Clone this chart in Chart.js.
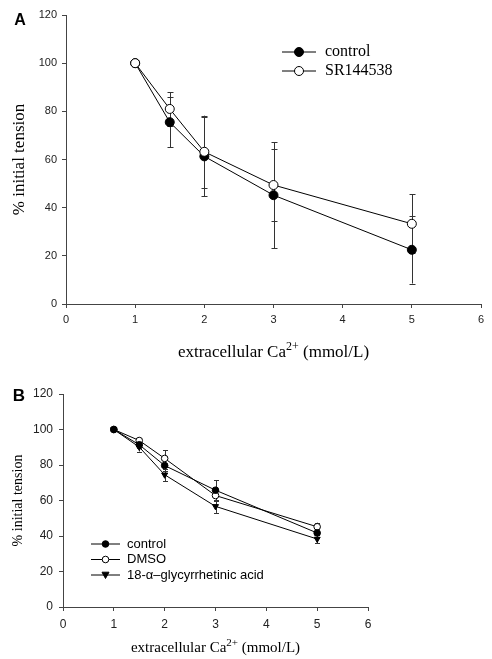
<!DOCTYPE html>
<html>
<head>
<meta charset="utf-8">
<script src="https://cdn.jsdelivr.net/npm/chart.js@4"></script>
<style>
  html, body { margin: 0; padding: 0; background: #fff; }
  #wrap { position: relative; width: 492px; height: 659px; }
  canvas { position: absolute; left: 0; }
  #chartA { top: 0; width: 492px; height: 362px; }
  #chartB { top: 362px; width: 492px; height: 297px; }
</style>
</head>
<body>
<div id="wrap">
  <canvas id="chartA" width="492" height="362"></canvas>
  <canvas id="chartB" width="492" height="297"></canvas>
</div>
<script>
// extracellular Ca2+ (mmol/L)
const caValues = [1, 1.5, 2, 3, 5];

// panel A, % initial tension (mean and error)
const aControl = [100, 75.5, 61.3, 45.2, 22.5];
const aControlErr = [0, 10.5, 16.5, 22, 14];
const aSR = [100, 81, 63.2, 49.4, 33.3];
const aSRErr = [0, 7, 15, 15, 12.2];

// panel B
const bControl = [100, 91.4, 79.7, 65.8, 41.7];
const bControlErr = [0, 2, 3, 5.7, 2];
const bDMSO = [100, 93.8, 83.7, 62.8, 45.2];
const bDMSOErr = [0, 1.5, 4.5, 3, 2.3];
const bGlyc = [100, 90.1, 74.5, 56.7, 38.3];
const bGlycErr = [0, 2.5, 3.5, 3.7, 2.5];

const xTickValues = [0, 1, 2, 3, 4, 5, 6];
const yTickValues = [0, 20, 40, 60, 80, 100, 120];

const SANS = '"Liberation Sans", Arial, sans-serif';
const SERIF = '"Liberation Serif", "Times New Roman", serif';

function points(ys) {
  return caValues.map((x, i) => ({ x: x, y: ys[i] }));
}

function drawMarker(ctx, style, x, y, r, fill) {
  ctx.beginPath();
  if (style === 'triangleDown') {
    ctx.moveTo(x - r, y - r * 0.8);
    ctx.lineTo(x + r, y - r * 0.8);
    ctx.lineTo(x, y + r);
    ctx.closePath();
  } else {
    ctx.arc(x, y, r, 0, Math.PI * 2);
  }
  ctx.fillStyle = fill;
  ctx.fill();
  ctx.lineWidth = 1;
  ctx.strokeStyle = '#000';
  ctx.stroke();
}

// vertical error bars, drawn under the markers
const errorBars = {
  id: 'errorBars',
  beforeDatasetsDraw(chart, args, o) {
    const ctx = chart.ctx;
    const yScale = chart.scales.y;
    ctx.save();
    ctx.strokeStyle = '#333';
    ctx.lineWidth = 1;
    chart.data.datasets.forEach((ds, di) => {
      const meta = chart.getDatasetMeta(di);
      meta.data.forEach((pt, i) => {
        const e = ds.errors[i];
        if (!e) return;
        const v = ds.data[i].y;
        const top = yScale.getPixelForValue(v + e);
        const bot = yScale.getPixelForValue(v - e);
        const x = Math.round(pt.x) + 0.5;
        ctx.beginPath();
        ctx.moveTo(x, top); ctx.lineTo(x, bot);
        ctx.moveTo(x - o.cap, Math.round(top) + 0.5); ctx.lineTo(x + o.cap, Math.round(top) + 0.5);
        ctx.moveTo(x - o.cap, Math.round(bot) + 0.5); ctx.lineTo(x + o.cap, Math.round(bot) + 0.5);
        ctx.stroke();
      });
    });
    ctx.restore();
  }
};

// panel letter, axis titles and legend
const panelDecor = {
  id: 'panelDecor',
  afterDraw(chart, args, o) {
    const ctx = chart.ctx;
    const area = chart.chartArea;
    ctx.save();
    ctx.fillStyle = '#000';
    ctx.textAlign = 'center';
    ctx.textBaseline = 'middle';
    ctx.font = 'bold ' + o.letterSize + 'px ' + SANS;
    ctx.fillText(o.letter, o.letterX, o.letterY);

    // y title
    ctx.save();
    ctx.translate(o.yTitleX, (area.top + area.bottom) / 2);
    ctx.rotate(-Math.PI / 2);
    ctx.font = o.yTitleSize + 'px ' + SERIF;
    ctx.fillText('% initial tension', 0, 0);
    ctx.restore();

    // x title with superscript
    const big = o.xTitleSize + 'px ' + SERIF;
    const small = Math.round(o.xTitleSize * 0.72) + 'px ' + SERIF;
    const parts = [['extracellular Ca', big, 0], ['2+', small, -o.xTitleSize * 0.42], [' (mmol/L)', big, 0]];
    let total = 0;
    parts.forEach(p => { ctx.font = p[1]; total += ctx.measureText(p[0]).width; });
    let x = (area.left + area.right) / 2 - total / 2;
    ctx.textAlign = 'left';
    ctx.textBaseline = 'alphabetic';
    parts.forEach(p => {
      ctx.font = p[1];
      ctx.fillText(p[0], x, o.xTitleY + p[2]);
      x += ctx.measureText(p[0]).width;
    });

    // legend
    const lg = o.legend;
    chart.data.datasets.forEach((ds, i) => {
      const y = lg.y + i * lg.gap;
      ctx.beginPath();
      ctx.strokeStyle = '#000';
      ctx.lineWidth = 1;
      ctx.moveTo(lg.x0, y); ctx.lineTo(lg.x1, y);
      ctx.stroke();
      drawMarker(ctx, ds.markerKind, (lg.x0 + lg.x1) / 2, y, ds.pointRadius, ds.pointBackgroundColor);
      ctx.fillStyle = '#000';
      ctx.font = lg.font;
      ctx.textBaseline = 'middle';
      ctx.fillText(ds.label, lg.textX, y);
    });
    ctx.restore();
  }
};

function makeDataset(label, ys, errs, fill, radius, kind, order) {
  return {
    label: label,
    data: points(ys),
    errors: errs,
    markerKind: kind,
    order: order,
    showLine: true,
    borderColor: '#000',
    borderWidth: 1,
    pointRadius: radius,
    pointHoverRadius: radius,
    pointBackgroundColor: fill,
    pointBorderColor: '#000',
    pointBorderWidth: 1,
    pointStyle: kind === 'triangleDown' ? 'triangle' : 'circle',
    pointRotation: kind === 'triangleDown' ? 180 : 0,
    tension: 0
  };
}

function scales(fontSize, yWidth, xHeight, xPad, yPad) {
  return {
    x: {
      type: 'linear', min: 0, max: 6,
      afterBuildTicks: s => { s.ticks = xTickValues.map(v => ({ value: v })); },
      afterFit: s => { s.height = xHeight; },
      border: { display: true, color: '#444', width: 1 },
      grid: { display: true, drawOnChartArea: false, drawTicks: true, tickLength: 4, color: '#444' },
      ticks: { padding: xPad, color: '#222', font: { family: SANS, size: fontSize } }
    },
    y: {
      type: 'linear', min: 0, max: 120,
      afterBuildTicks: s => { s.ticks = yTickValues.map(v => ({ value: v })); },
      afterFit: s => { s.width = yWidth; },
      border: { display: true, color: '#444', width: 1 },
      grid: { display: true, drawOnChartArea: false, drawTicks: true, tickLength: 4, color: '#444' },
      ticks: { padding: yPad, color: '#222', font: { family: SANS, size: fontSize } }
    }
  };
}

new Chart(document.getElementById('chartA'), {
  type: 'scatter',
  data: {
    datasets: [
      makeDataset('control', aControl, aControlErr, '#000', 4.5, 'circle', 1),
      makeDataset('SR144538', aSR, aSRErr, '#fff', 4.5, 'circle', 0)
    ]
  },
  options: {
    responsive: false,
    animation: false,
    layout: { padding: { top: 15, right: 11, left: 0, bottom: 0 } },
    scales: scales(11, 66, 58, 5, 5),
    plugins: {
      legend: { display: false },
      tooltip: { enabled: false },
      errorBars: { cap: 3 },
      panelDecor: {
        letter: 'A', letterSize: 16, letterX: 20, letterY: 21,
        yTitleX: 20, yTitleSize: 17,
        xTitleSize: 17, xTitleY: 357,
        legend: { x0: 282, x1: 316, textX: 325, y: 52, gap: 19, font: '16px ' + SERIF }
      }
    }
  },
  plugins: [errorBars, panelDecor]
});

new Chart(document.getElementById('chartB'), {
  type: 'scatter',
  data: {
    datasets: [
      makeDataset('control', bControl, bControlErr, '#000', 3.3, 'circle', 1),
      makeDataset('DMSO', bDMSO, bDMSOErr, '#fff', 3.3, 'circle', 2),
      makeDataset('18-\u03b1\u2013glycyrrhetinic acid', bGlyc, bGlycErr, '#000', 3.5, 'triangleDown', 0)
    ]
  },
  options: {
    responsive: false,
    animation: false,
    layout: { padding: { top: 32, right: 124, left: 0, bottom: 0 } },
    scales: scales(12, 63, 52, 6, 6),
    plugins: {
      legend: { display: false },
      tooltip: { enabled: false },
      errorBars: { cap: 2.5 },
      panelDecor: {
        letter: 'B', letterSize: 17, letterX: 19, letterY: 34,
        yTitleX: 18, yTitleSize: 14,
        xTitleSize: 15, xTitleY: 290,
        legend: { x0: 91, x1: 120, textX: 127, y: 182, gap: 15.5, font: '13px ' + SANS }
      }
    }
  },
  plugins: [errorBars, panelDecor]
});
</script>
</body>
</html>
